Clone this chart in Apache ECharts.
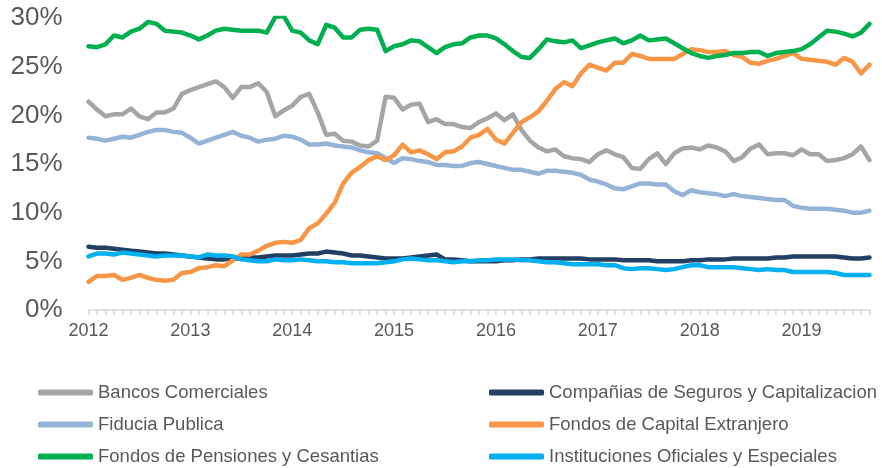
<!DOCTYPE html>
<html>
<head>
<meta charset="utf-8">
<script src="https://cdn.jsdelivr.net/npm/echarts@6/dist/echarts.min.js"></script>
<style>
  html, body { margin: 0; padding: 0; background: #fff; }
  #chart { width: 882px; height: 468px; }
</style>
</head>
<body>
<div id="chart"></div>
<script>
// monthly series, Jan 2012 .. Sep 2019
const startYear = 2012;
const monthCount = 93;
const months = [];
for (let i = 0; i < monthCount; i++) {
  const y = startYear + Math.floor(i / 12);
  const m = (i % 12) + 1;
  months.push(y + "-" + (m < 10 ? "0" + m : m));
}

const seriesNames = [
  "Bancos Comerciales",
  "Compañias de Seguros y Capitalizacion",
  "Fiducia Publica",
  "Fondos de Capital Extranjero",
  "Fondos de Pensiones y Cesantias",
  "Instituciones Oficiales y Especiales",
];

const bancos = [
  21.4, 20.6, 19.9, 20.1, 20.1, 20.7, 19.9, 19.6, 20.3, 20.3, 20.7, 22.2,
  22.6, 22.9, 23.2, 23.5, 22.9, 21.8, 22.9, 22.9, 23.3, 22.4, 19.9, 20.5,
  21.0, 21.9, 22.2, 20.3, 18.0, 18.1, 17.4, 17.3, 16.9, 16.8, 17.4, 21.9,
  21.8, 20.6, 21.1, 21.2, 19.3, 19.6, 19.1, 19.1, 18.8, 18.7, 19.3, 19.7,
  20.2, 19.5, 20.1, 18.5, 17.4, 16.7, 16.3, 16.5, 15.8, 15.6, 15.5, 15.2,
  16.0, 16.4, 16.0, 15.7, 14.6, 14.5, 15.5, 16.1, 15.0, 16.1, 16.6, 16.7,
  16.5, 16.9, 16.7, 16.3, 15.3, 15.7, 16.6, 17.0, 16.0, 16.1, 16.1, 15.9,
  16.5, 16.0, 16.0, 15.3, 15.4, 15.6, 16.0, 16.8, 15.4,
];
const seguros = [
  6.5, 6.4, 6.4, 6.3, 6.2, 6.1, 6.0, 5.9, 5.8, 5.8, 5.7, 5.6,
  5.5, 5.4, 5.3, 5.2, 5.2, 5.3, 5.3, 5.4, 5.4, 5.5, 5.6, 5.6,
  5.6, 5.7, 5.8, 5.8, 6.0, 5.9, 5.8, 5.6, 5.6, 5.5, 5.4, 5.3,
  5.3, 5.3, 5.4, 5.5, 5.6, 5.7, 5.2, 5.2, 5.1, 5.0, 5.0, 5.0,
  5.0, 5.1, 5.1, 5.2, 5.2, 5.3, 5.3, 5.3, 5.3, 5.3, 5.3, 5.2,
  5.2, 5.2, 5.2, 5.1, 5.1, 5.1, 5.1, 5.0, 5.0, 5.0, 5.0, 5.1,
  5.1, 5.2, 5.2, 5.2, 5.3, 5.3, 5.3, 5.3, 5.3, 5.4, 5.4, 5.5,
  5.5, 5.5, 5.5, 5.5, 5.5, 5.4, 5.3, 5.3, 5.4,
];
const fiducia = [
  17.7, 17.6, 17.4, 17.6, 17.8, 17.7, 18.0, 18.3, 18.5, 18.5, 18.3, 18.2,
  17.7, 17.1, 17.4, 17.7, 18.0, 18.3, 17.9, 17.7, 17.3, 17.5, 17.6, 17.9,
  17.8, 17.5, 17.0, 17.0, 17.1, 16.9, 16.8, 16.7, 16.4, 16.2, 16.1, 15.6,
  15.1, 15.6, 15.5, 15.3, 15.2, 14.9, 14.9, 14.8, 14.8, 15.1, 15.2, 15.0,
  14.8, 14.6, 14.4, 14.4, 14.2, 14.0, 14.3, 14.3, 14.2, 14.1, 13.9, 13.4,
  13.2, 12.9, 12.5, 12.4, 12.7, 13.0, 13.0, 12.9, 12.9, 12.2, 11.8, 12.3,
  12.1, 12.0, 11.9, 11.7, 11.9, 11.7, 11.6, 11.5, 11.4, 11.3, 11.3, 10.7,
  10.5, 10.4, 10.4, 10.4, 10.3, 10.2, 10.0, 10.0, 10.2,
];
const capitalExtranjero = [
  2.9, 3.5, 3.5, 3.6, 3.1, 3.3, 3.6, 3.3, 3.1, 3.0, 3.1, 3.8,
  3.9, 4.3, 4.4, 4.6, 4.5, 5.1, 5.7, 5.7, 6.1, 6.6, 6.9, 7.0,
  6.9, 7.2, 8.4, 8.9, 9.9, 11.0, 13.0, 14.1, 14.7, 15.4, 15.8, 15.4,
  15.9, 17.0, 16.2, 16.4, 16.0, 15.5, 16.2, 16.3, 16.8, 17.7, 18.0, 18.6,
  17.5, 17.1, 18.2, 19.3, 19.8, 20.4, 21.5, 22.7, 23.4, 23.0, 24.3, 25.2,
  24.9, 24.6, 25.4, 25.4, 26.3, 26.1, 25.8, 25.8, 25.8, 25.8, 26.3, 26.8,
  26.7, 26.5, 26.5, 26.6, 26.2, 26.0, 25.4, 25.3, 25.6, 25.8, 26.1, 26.4,
  25.8, 25.7, 25.6, 25.5, 25.2, 25.9, 25.5, 24.3, 25.2,
];
const pensiones = [
  27.1, 27.0, 27.3, 28.2, 28.0, 28.6, 28.9, 29.6, 29.4, 28.7, 28.6, 28.5,
  28.2, 27.8, 28.2, 28.7, 28.9, 28.8, 28.7, 28.7, 28.7, 28.5, 30.1, 30.2,
  28.7, 28.5, 27.7, 27.3, 29.3, 29.0, 28.0, 28.0, 28.8, 28.9, 28.8, 26.6,
  27.1, 27.3, 27.7, 27.6, 27.0, 26.4, 27.0, 27.3, 27.4, 28.0, 28.2, 28.2,
  27.9, 27.3, 26.6, 26.0, 25.9, 26.8, 27.8, 27.6, 27.5, 27.7, 26.9, 27.2,
  27.5, 27.7, 27.9, 27.4, 27.7, 28.2, 27.7, 27.8, 27.9, 27.4, 26.9, 26.4,
  26.1, 25.9, 26.1, 26.2, 26.4, 26.4, 26.5, 26.5, 26.1, 26.4, 26.5, 26.6,
  26.8, 27.3, 28.0, 28.7, 28.6, 28.4, 28.1, 28.5, 29.4,
];
const oficiales = [
  5.5, 5.8, 5.8, 5.7, 5.9, 5.8, 5.7, 5.6, 5.5, 5.6, 5.6, 5.6,
  5.5, 5.4, 5.7, 5.6, 5.6, 5.5, 5.2, 5.1, 5.0, 5.0, 5.2, 5.1,
  5.1, 5.2, 5.1, 5.0, 5.0, 4.9, 4.9, 4.8, 4.8, 4.8, 4.8, 4.9,
  5.0, 5.2, 5.3, 5.2, 5.1, 5.1, 5.0, 4.9, 5.0, 5.0, 5.1, 5.1,
  5.2, 5.2, 5.2, 5.1, 5.1, 5.0, 4.9, 4.9, 4.8, 4.7, 4.7, 4.7,
  4.7, 4.6, 4.6, 4.3, 4.2, 4.3, 4.3, 4.2, 4.1, 4.2, 4.4, 4.6,
  4.6, 4.4, 4.4, 4.4, 4.4, 4.3, 4.2, 4.1, 4.2, 4.1, 4.1, 3.9,
  3.9, 3.9, 3.9, 3.9, 3.8, 3.6, 3.6, 3.6, 3.6,
];

const seriesData = [bancos, seguros, fiducia, capitalExtranjero, pensiones, oficiales];
const seriesColors = ["#A5A5A5", "#243F64", "#95B3D7", "#F79646", "#00B050", "#00B0F0"];

const font = "'Liberation Sans', Arial, sans-serif";
const textColor = "#595959";
const axisGray = "#D9D9D9";

const chart = echarts.init(document.getElementById("chart"));

// legend laid out as 2 columns x 3 rows, one legend per entry
const legendCols = [38, 489];
const legendRows = [383, 415, 447];
const legends = seriesNames.map((name, k) => ({
  data: [name],
  left: legendCols[k % 2],
  top: legendRows[Math.floor(k / 2)],
  itemWidth: 55,
  itemHeight: 6,
  icon: "roundRect",
  selectedMode: false,
  padding: 0,
  textStyle: { fontSize: 18.5, color: textColor, fontFamily: font },
}));

const option = {
  animation: false,
  color: seriesColors,
  grid: { left: 88.5, right: 12.5, top: 18, bottom: 158, containLabel: false },
  legend: legends,
  xAxis: {
    type: "category",
    data: months,
    boundaryGap: false,
    axisLine: { show: true, lineStyle: { color: axisGray, width: 1.5 } },
    axisTick: { show: true, interval: 0, length: 5, lineStyle: { color: axisGray, width: 1.5 } },
    axisLabel: {
      interval: 11,
      margin: 12,
      fontSize: 18,
      color: textColor,
      fontFamily: font,
      formatter: (v) => v.slice(0, 4),
    },
    splitLine: { show: false },
  },
  yAxis: {
    type: "value",
    min: 0,
    max: 30,
    interval: 5,
    axisLine: { show: false },
    axisTick: { show: false },
    splitLine: { show: false },
    axisLabel: {
      margin: 26,
      fontSize: 26,
      color: textColor,
      fontFamily: font,
      formatter: "{value}%",
    },
  },
  series: seriesNames.map((name, k) => ({
    name: name,
    type: "line",
    data: seriesData[k],
    symbol: "none",
    smooth: false,
    lineStyle: { width: 4.5, cap: "round", join: "round" },
  })),
};

chart.setOption(option);
</script>
</body>
</html>
